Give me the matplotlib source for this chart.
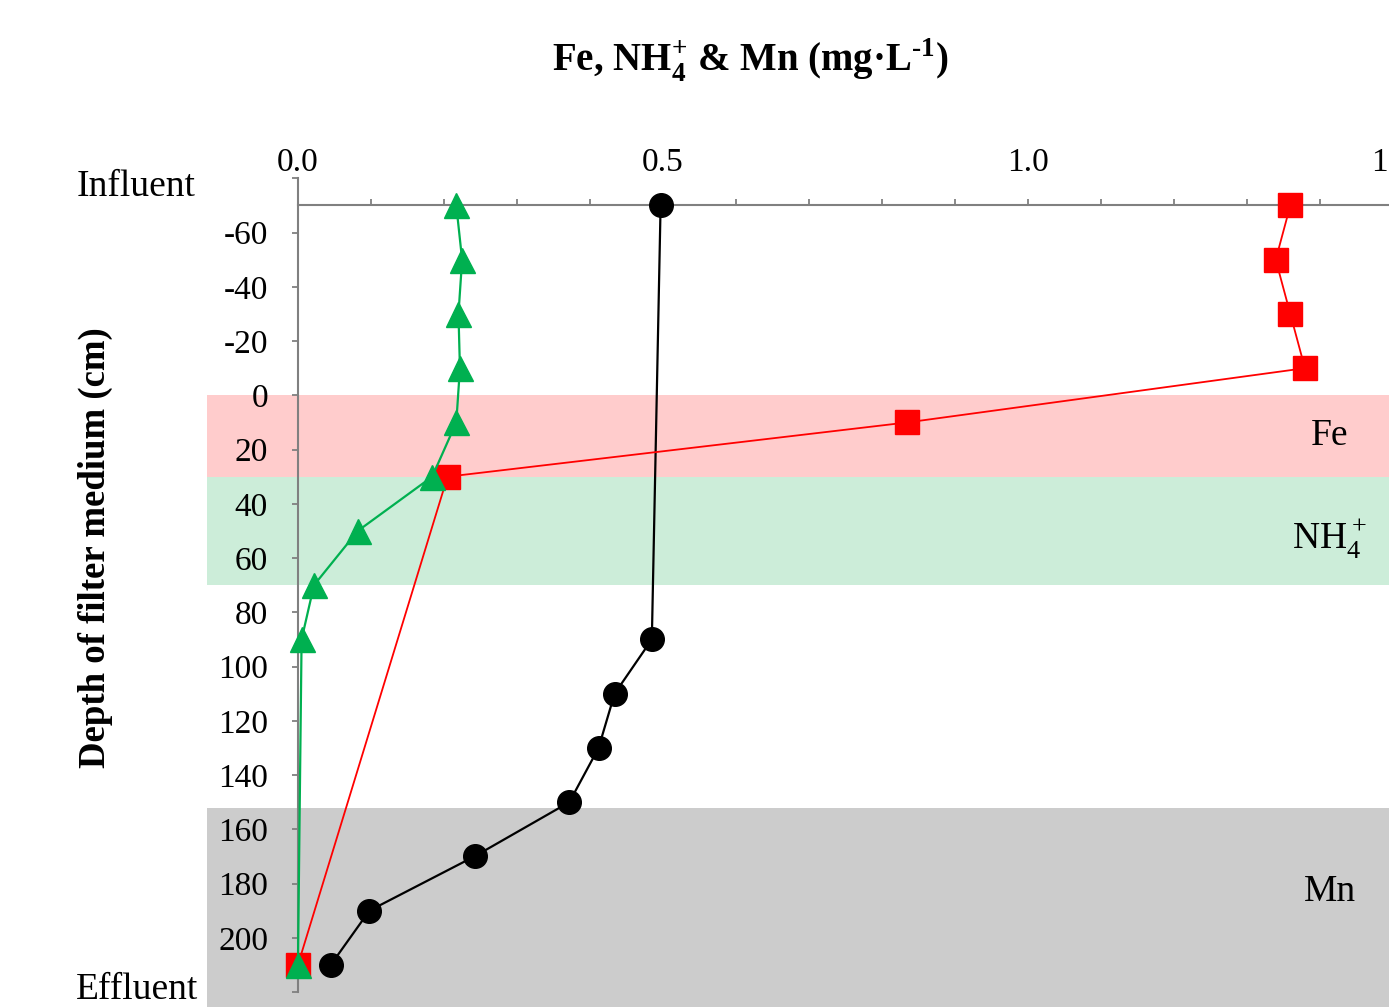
import matplotlib.pyplot as plt
from matplotlib.patches import Rectangle

plt.rcParams['font.family'] = ['Liberation Serif', 'DejaVu Serif']
plt.rcParams['mathtext.fontset'] = 'custom'
plt.rcParams['mathtext.rm'] = 'Liberation Serif'
plt.rcParams['mathtext.bf'] = 'Liberation Serif:bold'

### Data
depth_fe = [-70, -50, -30, -10, 10, 30, 210]
fe = [1.36, 1.34, 1.36, 1.38, 0.835, 0.205, 0.0]

depth_nh4 = [-70, -50, -30, -10, 10, 30, 50, 70, 90, 210]
nh4 = [0.217, 0.225, 0.220, 0.222, 0.217, 0.184, 0.082, 0.022, 0.005, 0.0]

depth_mn = [-70, 90, 110, 130, 150, 170, 190, 210]
mn = [0.497, 0.485, 0.434, 0.412, 0.372, 0.242, 0.098, 0.045]

# removal zones
zone_names = ["Fe", r"NH$_4^+$", "Mn"]
zone_top = [0, 30, 152]
zone_bottom = [30, 70, 240]
zone_colors = ["#FFCCCC", "#CCEDD9", "#CCCCCC"]
zone_label_y = [15, 53, 183]

y_ticks = list(range(-80, 221, 20))
y_labels = ["" if t in (-80, 220) else str(t) for t in y_ticks]

x_major = [0.0, 0.5, 1.0, 1.5]
x_minor = [i / 10 for i in range(16)]

### Plot
fig = plt.figure(figsize=(13.89, 10.07), dpi=100)
ax = fig.add_axes([0.2145, 0.0149, 0.788, 0.808])
ax.set_xlim(0, 1.5)
ax.set_ylim(220, -80)
ax.patch.set_alpha(0)

for name, top, bot, col, ly in zip(zone_names, zone_top, zone_bottom, zone_colors, zone_label_y):
    ax.add_patch(Rectangle((-0.125, top), 1.75, bot - top, facecolor=col,
                           edgecolor="none", clip_on=False, zorder=0))
    ax.text(1.414, ly, name, ha="center", va="center", fontsize=27, zorder=5)

ax.plot(mn, depth_mn, "-o", color="black", lw=1.6, ms=17, zorder=3, clip_on=False)
ax.plot(fe, depth_fe, "-s", color="#FF0000", lw=1.3, ms=17, zorder=4, clip_on=False)
ax.plot(nh4, depth_nh4, "-^", color="#00B050", lw=1.6, ms=18, zorder=5, clip_on=False)

# axes styling
for s in ["right", "bottom"]:
    ax.spines[s].set_visible(False)
ax.spines["left"].set_color("#808080")
ax.spines["left"].set_linewidth(1.5)
ax.spines["top"].set_position(("data", -70))
ax.spines["top"].set_color("#808080")
ax.spines["top"].set_linewidth(1.5)

ax.set_yticks(y_ticks)
ax.set_yticklabels(y_labels)
ax.tick_params(axis="y", direction="out", length=4.5, width=1.3, color="#808080",
               labelsize=24, pad=17)

ax.xaxis.tick_top()
ax.set_xticks(x_major)
ax.set_xticklabels([f"{v:.1f}" for v in x_major])
ax.set_xticks(x_minor, minor=True)
ax.tick_params(axis="x", which="both", direction="out", length=4, width=1.3,
               color="#808080", labelsize=24, pad=16)

ax.text(-0.141, -77, "Influent", ha="right", va="center", fontsize=27, clip_on=False)
ax.text(-0.137, 219, "Effluent", ha="right", va="center", fontsize=27, clip_on=False)

fig.text(95 / 1389, 1 - 548 / 1007, "Depth of filter medium (cm)", rotation=90,
         ha="center", va="center", fontsize=26.5, fontweight="bold")
fig.text(750 / 1389, 1 - 60 / 1007,
         r"Fe, NH$_\mathbf{4}^\mathbf{+}$ & Mn (mg·L$^\mathbf{‐1}$)",
         ha="center", va="center", fontsize=28, fontweight="bold")

fig.savefig("out.png", dpi=100)
